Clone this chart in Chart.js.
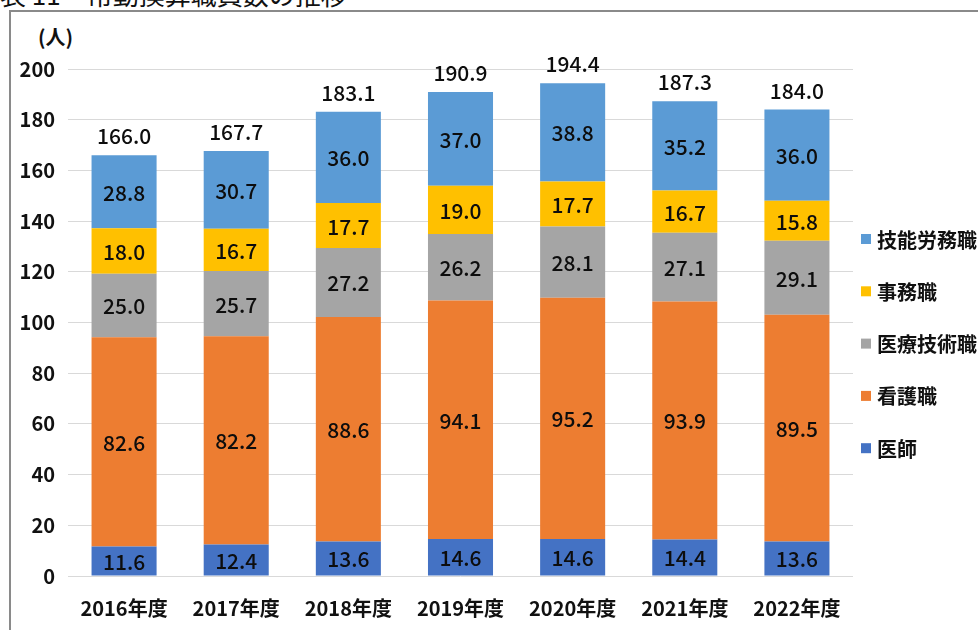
<!DOCTYPE html>
<html>
<head>
<meta charset="utf-8">
<script src="https://cdn.jsdelivr.net/npm/chart.js@4"></script>
<style>
  html, body { margin: 0; padding: 0; background: #fff; overflow: hidden; }
  #wrap { position: relative; width: 978px; height: 630px; overflow: hidden; }
  #frame { position: absolute; left: 9px; top: 10px; width: 1200px; height: 900px;
           border-left: 2px solid #8a8a8a; border-top: 2px solid #8a8a8a; }
  #title { position: absolute; left: 0; top: -19px; font-family: "Noto Sans CJK JP", sans-serif;
           font-size: 26px; line-height: 26px; color: #111; white-space: nowrap; font-weight: 400; }
  #unit { position: absolute; left: 38px; top: 24px; font-family: "Noto Sans CJK JP", sans-serif;
          font-size: 20px; line-height: 26px; font-weight: bold; color: #111; }
  canvas { position: absolute; left: 0; top: 0; }
</style>
</head>
<body>
<div id="wrap">
  <div id="title">表 11　常勤換算職員数の推移</div>
  <div id="frame"></div>
  <div id="unit">(人)</div>
  <canvas id="c" width="978" height="630"></canvas>
</div>
<script>
const categories = ["2016年度", "2017年度", "2018年度", "2019年度", "2020年度", "2021年度", "2022年度"];
const seriesNames = ["医師", "看護職", "医療技術職", "事務職", "技能労務職"];
const doctors   = [11.6, 12.4, 13.6, 14.6, 14.6, 14.4, 13.6];
const nurses    = [82.6, 82.2, 88.6, 94.1, 95.2, 93.9, 89.5];
const medTech   = [25.0, 25.7, 27.2, 26.2, 28.1, 27.1, 29.1];
const office    = [18.0, 16.7, 17.7, 19.0, 17.7, 16.7, 15.8];
const labor     = [28.8, 30.7, 36.0, 37.0, 38.8, 35.2, 36.0];
const totals    = [166.0, 167.7, 183.1, 190.9, 194.4, 187.3, 184.0];
const yTicks    = [0, 20, 40, 60, 80, 100, 120, 140, 160, 180, 200];

const colors = ["#4472C4", "#ED7D31", "#A5A5A5", "#FFC000", "#5B9BD5"];
const seriesData = [doctors, nurses, medTech, office, labor];
const FONT = '"Noto Sans CJK JP", sans-serif';

const labelPlugin = {
  id: 'labels',
  afterDatasetsDraw(chart) {
    const ctx = chart.ctx;
    ctx.save();
    ctx.textAlign = 'center';
    ctx.textBaseline = 'middle';
    ctx.fillStyle = '#0d0d0d';
    ctx.font = '500 21px ' + FONT;
    chart.data.datasets.forEach((ds, i) => {
      const meta = chart.getDatasetMeta(i);
      meta.data.forEach((bar, j) => {
        const cy = (bar.y + bar.base) / 2;
        ctx.fillText(ds.data[j].toFixed(1), bar.x, cy + 1);
      });
    });
    const topMeta = chart.getDatasetMeta(chart.data.datasets.length - 1);
    topMeta.data.forEach((bar, j) => {
      ctx.fillText(totals[j].toFixed(1), bar.x, bar.y - 19);
    });
    ctx.restore();
  },
  afterDraw(chart) {
    const ctx = chart.ctx;
    ctx.save();
    ctx.textAlign = 'left';
    ctx.textBaseline = 'middle';
    ctx.font = 'bold 20px ' + FONT;
    const n = chart.data.datasets.length;
    for (let k = 0; k < n; k++) {
      const i = n - 1 - k;
      const ds = chart.data.datasets[i];
      const y = 239 + k * 52.3;
      ctx.fillStyle = ds.backgroundColor;
      ctx.fillRect(861, y - 5, 10, 10);
      ctx.fillStyle = '#111';
      ctx.fillText(ds.label, 877, y + 1);
    }
    ctx.restore();
  }
};

new Chart(document.getElementById('c'), {
  type: 'bar',
  data: {
    labels: categories,
    datasets: seriesNames.map((name, i) => ({
      label: name,
      data: seriesData[i],
      backgroundColor: colors[i],
      borderWidth: 0,
      barPercentage: 0.58,
      categoryPercentage: 1.0
    }))
  },
  options: {
    responsive: false,
    animation: false,
    layout: { padding: { left: 0, right: 125, top: 69, bottom: 0 } },
    plugins: { legend: { display: false }, tooltip: { enabled: false } },
    scales: {
      x: {
        stacked: true,
        grid: { display: false },
        border: { display: false },
        ticks: { color: '#111', font: { family: FONT, size: 20, weight: 'bold' }, padding: 12, maxRotation: 0 },
        afterFit(scale) { scale.height = 54; }
      },
      y: {
        stacked: true,
        min: 0, max: 200,
        afterBuildTicks(scale) { scale.ticks = yTicks.map(v => ({ value: v })); },
        grid: { color: '#d9d9d9', lineWidth: 1, drawTicks: false },
        border: { display: false },
        ticks: { color: '#111', font: { family: FONT, size: 20, weight: 'bold' }, padding: 13 },
        afterFit(scale) { scale.width = 68; }
      }
    }
  },
  plugins: [labelPlugin]
});
</script>
</body>
</html>
